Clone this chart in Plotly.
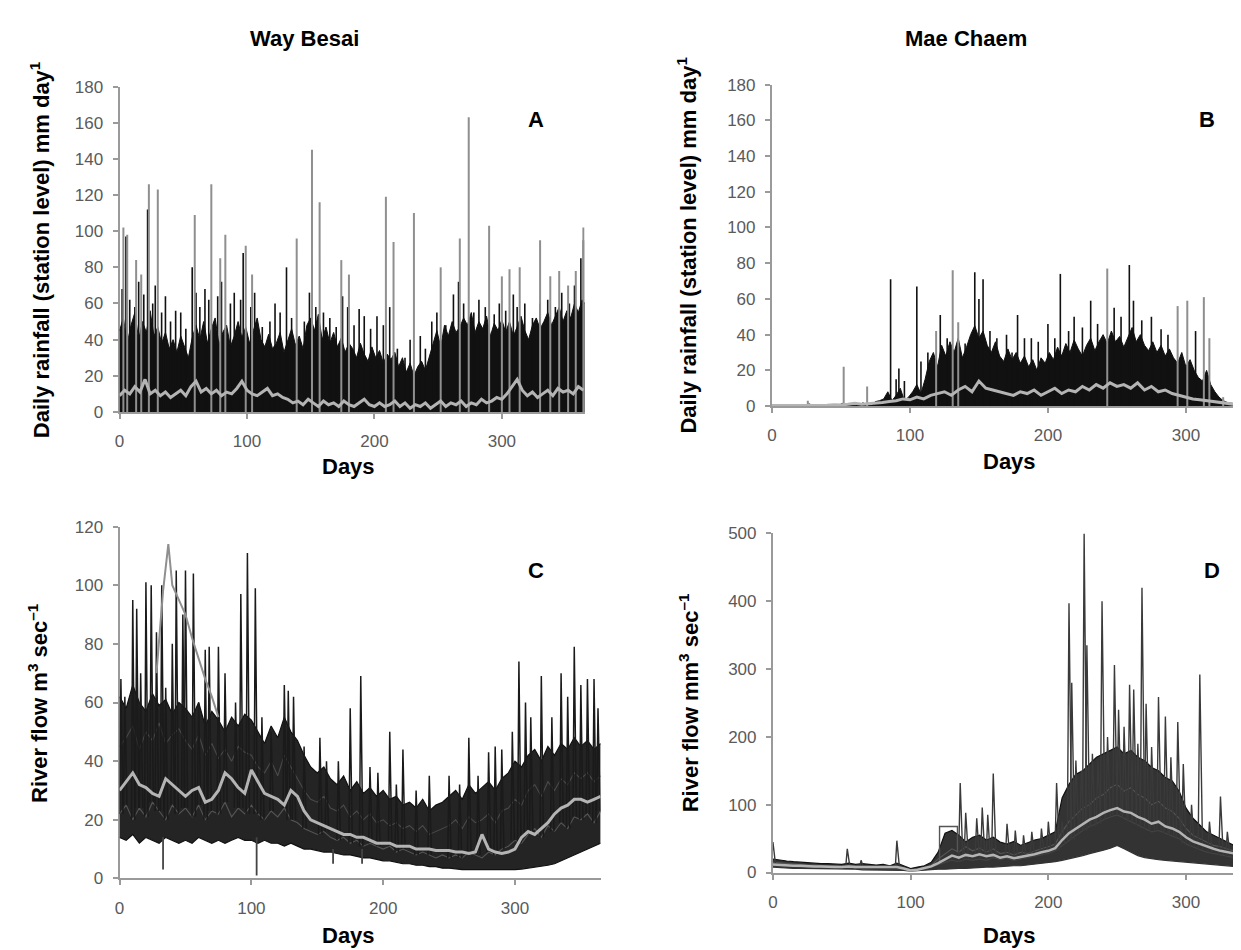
import plotly.graph_objects as go

W, H = 1241, 950

# ---------------- Panel A : Way Besai daily rainfall ----------------
A_env_days = list(range(0, 364, 3)) + [365]
A_env = [45, 52, 38, 48, 55, 40, 50, 44, 56, 42, 47,
         38, 44, 35, 40, 33, 42, 36, 30, 41, 48,
         40, 50, 38, 46, 52, 37, 44, 48, 36, 42,
         50, 41, 47, 38, 45, 52, 40, 36, 43, 35,
         38, 44, 33, 40, 46, 37, 42, 35, 48, 52,
         45, 54, 40, 47, 38, 44, 36, 41, 33, 38,
         35, 30, 38, 32, 28, 36, 30, 34, 27, 32,
         29, 33, 25, 30, 22, 27, 20, 25, 28, 23,
         30, 38, 45, 36, 48, 42, 50, 44, 47, 52,
         48, 55, 44, 50, 46, 53, 42, 49, 45, 51,
         44, 50, 42, 47, 53, 45, 40, 48, 52, 46,
         50, 55, 48, 53, 58, 50, 56, 52, 60, 55, 62,
         60]
A_mean_days = list(range(0, 365, 4))
A_mean = [9, 12, 10, 14, 11, 18, 10, 12, 9, 11, 8,
          10, 12, 9, 14, 17, 11, 13, 10, 12, 9, 11,
          10, 13, 17, 12, 10, 9, 11, 13, 9, 10, 8,
          7, 5, 6, 4, 7, 5, 3, 6, 4, 5, 3,
          6, 4, 3, 5, 7, 4, 3, 5, 3, 4, 6,
          3, 5, 2, 4, 3, 5, 2, 4, 6, 3, 5,
          4, 6, 3, 5, 4, 7, 5, 6, 8, 7, 10,
          14, 18, 12, 9, 11, 8, 10, 12, 9, 13, 11,
          12, 10, 14, 12]
A_black_days = [2, 5, 8, 12, 15, 19, 22, 26, 28, 33, 36, 40, 44, 48, 52, 57, 60, 63, 67, 70,
                77, 80, 87, 90, 95, 97, 103, 106, 112, 118, 122, 126, 131, 135, 140, 145, 149, 154, 160, 165,
                170, 175, 179, 184, 188, 192, 197, 202, 207, 212, 218, 224, 228, 236, 240, 245, 249, 256, 262, 266,
                270, 278, 282, 287, 294, 298, 303, 309, 312, 318, 324, 330, 336, 342, 347, 353, 357, 362, 364]
A_black_vals = [68, 97, 62, 58, 72, 65, 112, 60, 70, 55, 64, 50, 56, 55, 46, 80, 66, 58, 68, 62,
                64, 72, 60, 66, 62, 88, 58, 66, 47, 50, 60, 55, 80, 52, 40, 50, 66, 58, 55, 52,
                47, 64, 58, 48, 57, 53, 46, 53, 48, 58, 35, 30, 40, 42, 35, 50, 55, 48, 65, 72,
                60, 55, 62, 58, 54, 60, 56, 65, 58, 60, 52, 60, 62, 58, 66, 60, 70, 85, 95]
A_gray_days = [3, 6, 13, 17, 23, 30, 59, 72, 79, 83, 99, 104, 139, 151, 157, 174, 180, 209, 215, 231,
               252, 267, 274, 290, 300, 306, 314, 330, 338, 345, 352, 358, 364]
A_gray_vals = [102, 98, 84, 76, 126, 123, 109, 126, 85, 98, 92, 76, 96, 145, 116, 84, 76, 119, 94, 110,
               80, 96, 163, 103, 75, 79, 80, 95, 75, 78, 70, 78, 102]

# ---------------- Panel B : Mae Chaem daily rainfall ----------------
B_env_days = list(range(0, 346, 3))
B_env = [0.3, 0.5, 0.2, 0.4, 0.6, 0.3, 0.2, 0.5, 0.4, 1.2, 0.3, 0.2, 0.4, 0.6, 0.3, 0.5, 0.2, 1.5,
         0.4, 0.3, 0.5, 0.7, 1.8, 0.6, 0.4, 2.5, 3.0,
         4, 8, 3, 6, 10, 3, 5, 8, 12, 7, 15,
         25, 30, 22, 34, 28, 36, 30, 38, 27, 33, 40,
         45, 38, 42, 34, 30, 36, 28, 25, 32, 26, 30,
         24, 28, 22, 26, 20, 27, 24, 30, 26, 33, 28,
         35, 30, 37, 32, 28, 34, 38, 31, 36, 40, 35,
         42, 36, 39, 33, 38, 44, 36, 40, 34, 31, 36,
         30, 34, 28, 32, 27, 24, 30, 22, 26, 20, 16,
         14, 20, 12, 8, 5, 3, 2, 1.5, 1, 0.8, 0.5, 0.4]
B_mean_days = list(range(0, 346, 5))
B_mean = [0.3, 0.3, 0.2, 0.3, 0.4, 0.5, 0.5, 0.6, 0.5, 0.8, 0.6, 1.0, 1.5, 1.0, 1.2, 1.5, 2.0,
          2.5, 3, 4, 3.5, 5, 4, 6, 7, 8, 6, 9, 11, 8, 14, 10, 9, 8,
          7, 6, 8, 7, 9, 6, 8, 10, 7, 9, 8, 11, 9, 12, 10, 13, 11,
          12, 10, 13, 9, 11, 8, 9, 7, 6, 5, 4, 3.5, 3, 2.5, 2, 1.2, 0.8,
          0.5, 0.4]
B_black_days = [86, 90, 92, 96, 105, 108, 113, 122, 127, 140, 147, 150, 153, 158, 163, 170, 174, 178, 183, 188,
                193, 200, 205, 209, 215, 219, 225, 231, 236, 248, 253, 259, 262, 268, 275, 282, 287, 307]
B_black_vals = [71, 15, 21, 14, 67, 25, 30, 51, 38, 35, 75, 60, 71, 42, 38, 40, 30, 51, 38, 38,
                36, 46, 38, 74, 42, 50, 44, 59, 46, 55, 50, 79, 59, 48, 50, 43, 40, 42]
B_gray_days = [26, 52, 69, 119, 131, 135, 243, 294, 301, 313, 317, 327]
B_gray_vals = [3, 22, 11, 42, 76, 47, 77, 56, 59, 61, 38, 5]

# ---------------- Panel C : Way Besai river flow ----------------
C_days = list(range(0, 366, 5))
C_upper = [62, 58, 66, 60, 57, 63, 59, 61, 56, 60,
           58, 55, 60, 52, 57, 54, 50, 55, 52, 56,
           54, 50, 46, 52, 48, 55, 50, 47, 42, 38,
           36, 38, 34, 32, 35, 30, 33, 29, 31, 28,
           30, 27, 28, 25, 26, 24, 27, 23, 25, 26,
           28, 30, 27, 32, 29, 31, 33, 30, 34, 36,
           40, 38, 42, 44, 40, 45, 42, 46, 44, 48,
           45, 47, 44, 46]
C_lower = [14, 13, 15, 12, 14, 13, 12, 14, 13, 12,
           13, 12, 14, 13, 12, 13, 12, 13, 14, 13,
           13, 12, 13, 12, 12, 11, 12, 11, 10, 10,
           9.5, 9, 9, 8.5, 8, 8, 7.5, 7, 7, 6.5,
           6, 6, 5.5, 5, 5, 4.5, 4.5, 4, 4, 3.5,
           3.5, 3.2, 3, 3, 3, 2.8, 3, 3, 2.8, 3,
           3, 3.2, 3.5, 3.8, 4, 4.5, 5, 6, 7, 8,
           9, 10, 11, 12]
C_mid1 = [45, 48, 52, 44, 50, 47, 53, 46, 49, 51,
          47, 44, 49, 42, 46, 41, 44, 40, 45, 43,
          42, 38, 36, 40, 35, 42, 38, 34, 30, 27,
          26, 28, 24, 23, 25, 21, 23, 20, 22, 19,
          20, 18, 19, 17, 18, 16, 18, 15, 16, 17,
          18, 20, 17, 21, 19, 20, 22, 19, 23, 24,
          27, 25, 30, 32, 28, 33, 30, 34, 32, 36,
          34, 36, 33, 35]
C_mid2 = [22, 25, 20, 24, 21, 26, 23, 20, 25, 22,
          24, 21, 25, 20, 23, 22, 26, 21, 24, 22,
          25, 22, 20, 23, 21, 24, 20, 19, 17, 16,
          15, 16, 14, 13, 14, 12, 13, 11, 12, 11,
          10, 11, 9, 10, 9, 8, 9, 8, 7, 8,
          7, 8, 7, 9, 8, 7, 9, 8, 10, 11,
          13, 12, 15, 17, 14, 18, 16, 19, 17, 21,
          20, 22, 19, 23]
C_mean = [30, 33, 36, 32, 31, 29, 28, 34, 32, 30,
          28, 30, 31, 26, 27, 30, 36, 34, 31, 29,
          37, 33, 29, 28, 27, 25, 30, 28, 23, 20,
          19, 18, 17, 16, 15, 15, 14, 14, 13, 12,
          12, 12, 11, 11, 11, 10, 10, 10, 9.5, 9.5,
          9.5, 9, 9, 8.5, 9, 15, 10, 9, 8.5, 9,
          10, 14, 16, 15, 17, 19, 22, 24, 25, 27,
          27, 26, 27, 28]
C_peak_days = [1, 4, 10, 13, 16, 20, 24, 28, 32, 35, 40, 43, 48, 50, 56, 60, 65, 68, 75, 80,
               88, 92, 97, 103, 108, 115, 125, 128, 132, 140, 152, 157, 166, 175, 183, 190, 196, 205, 210, 215,
               225, 235, 250, 258, 265, 272, 280, 285, 290, 298, 303, 308, 312, 320, 328, 335, 340, 345, 350, 355,
               360, 363]
C_peak_vals = [68, 62, 95, 92, 70, 101, 100, 84, 100, 65, 80, 105, 90, 105, 104, 60, 78, 79, 79, 70,
               60, 97, 111, 99, 55, 50, 66, 64, 62, 45, 48, 40, 40, 58, 69, 38, 36, 50, 32, 44,
               30, 35, 35, 32, 48, 35, 43, 45, 44, 50, 74, 60, 55, 69, 55, 70, 62, 79, 66, 68,
               68, 58]
C_drop_days = [33, 104, 162, 184]
C_drop_top = [14, 14, 10, 10]
C_drop_low = [3, 1, 5, 5]
C_hump_days = [28, 33, 37, 40, 45, 50, 55, 60, 65, 70, 75]
C_hump_vals = [70, 98, 114, 100, 95, 90, 82, 75, 68, 62, 55]

# ---------------- Panel D : Mae Chaem river flow ----------------
D_days = list(range(0, 346, 5))
D_upper = [20, 18, 17, 16, 15, 14, 14, 13, 13, 12,
           12, 14, 12, 13, 12, 11, 12, 10, 14, 10,
           6, 8, 10, 15, 30, 58, 62, 55, 45, 52,
           55, 48, 52, 45, 42, 46, 40, 44, 48, 50,
           55, 60, 110, 130, 145, 150, 160, 170, 175, 180,
           185, 175, 180, 170, 165, 155, 150, 140, 135, 120,
           95, 80, 70, 60, 55, 50, 45, 40, 35, 30]
D_lower = [8, 7, 7, 6, 6, 6, 5, 5, 5, 5,
           5, 5, 5, 4, 4, 4, 4, 4, 3, 3,
           2, 3, 4, 5, 5, 5, 6, 6, 6, 7,
           7, 8, 8, 9, 9, 10, 10, 11, 12, 13,
           14, 16, 18, 20, 22, 25, 28, 30, 33, 36,
           40, 35, 30, 25, 22, 20, 19, 18, 17, 16,
           15, 14, 13, 12, 11, 10, 10, 9, 9, 8]
D_mid1 = [15, 14, 13, 12, 12, 11, 11, 10, 10, 10,
          9, 10, 9, 9, 9, 8, 9, 8, 9, 7,
          4, 5, 7, 10, 20, 28, 35, 30, 38, 32,
          36, 30, 35, 28, 30, 26, 30, 28, 32, 35,
          38, 42, 60, 75, 85, 95, 100, 110, 115, 125,
          130, 120, 125, 115, 110, 100, 105, 95, 90, 80,
          65, 55, 50, 45, 40, 38, 35, 32, 28, 25]
D_mid2 = [10, 10, 9, 9, 8, 8, 8, 7, 7, 7,
          7, 7, 6, 6, 6, 6, 6, 5, 5, 5,
          3, 4, 5, 8, 12, 15, 18, 16, 20, 18,
          20, 18, 22, 19, 21, 18, 20, 22, 24, 26,
          28, 32, 40, 48, 55, 62, 68, 72, 78, 82,
          85, 80, 75, 70, 65, 60, 62, 58, 55, 50,
          42, 38, 34, 30, 28, 26, 24, 22, 20, 18]
D_mean = [12, 11, 11, 10, 10, 9, 9, 9, 8, 8,
          8, 9, 8, 8, 8, 7, 8, 7, 8, 6,
          3, 4, 6, 9, 14, 20, 25, 22, 26, 24,
          27, 24, 26, 22, 24, 21, 23, 24, 27, 30,
          32, 36, 48, 58, 65, 72, 78, 82, 88, 92,
          95, 90, 88, 82, 78, 72, 75, 68, 65, 60,
          52, 46, 42, 38, 35, 32, 30, 28, 26, 24]
D_peak_days = [0, 54, 64, 90, 136, 140, 148, 152, 156, 160, 170, 176, 182, 188, 195, 200, 206, 210, 215, 217,
               220, 224, 226, 228, 232, 236, 239, 243, 248, 251, 255, 259, 262, 265, 268, 271, 275, 280, 285, 289,
               294, 298, 304, 310, 317, 325, 330]
D_peak_vals = [45, 35, 18, 47, 132, 88, 80, 96, 85, 146, 72, 62, 55, 60, 65, 75, 132, 75, 397, 280,
               165, 150, 500, 335, 175, 165, 400, 200, 306, 240, 215, 277, 270, 190, 420, 249, 185, 259, 230, 170,
               222, 160, 100, 292, 75, 112, 60]
D_box_days = [121, 121, 134, 134]
D_box_vals = [15, 68, 68, 30]

# ---------------- helpers ----------------
BLACK = "#111111"
GRAY = "#8f8f8f"
MEAN = "#b4b4b4"
AXIS = "#9a9a9a"
TICKF = dict(family="Arial, Liberation Sans, sans-serif", size=17, color="#5a5a5a")


def sticks(days, vals, base=0):
    xs, ys = [], []
    for d, v in zip(days, vals):
        xs += [d, d, None]
        ys += [base, v, None]
    return xs, ys


def peaks(days, vals, grid_days, base_series, left=1.0, right=1.8):
    xs, ys = [], []
    for d, v in zip(days, vals):
        i = min(range(len(grid_days)), key=lambda k: abs(grid_days[k] - d))
        b = base_series[i]
        xs += [d - left, d, d + right, None]
        ys += [b, v, b, None]
    return xs, ys


fig = go.Figure()

# ---- A ----
fig.add_trace(go.Scatter(x=A_env_days, y=A_env, mode="lines", line=dict(color=BLACK, width=1),
                         fill="tozeroy", fillcolor=BLACK, xaxis="x", yaxis="y"))
x, y = sticks(A_black_days, A_black_vals)
fig.add_trace(go.Scatter(x=x, y=y, mode="lines", line=dict(color=BLACK, width=1.6), xaxis="x", yaxis="y"))
x, y = sticks(A_gray_days, A_gray_vals)
fig.add_trace(go.Scatter(x=x, y=y, mode="lines", line=dict(color=GRAY, width=2), xaxis="x", yaxis="y"))
fig.add_trace(go.Scatter(x=A_mean_days, y=A_mean, mode="lines", line=dict(color=MEAN, width=3), xaxis="x", yaxis="y"))

# ---- B ----
fig.add_trace(go.Scatter(x=B_env_days, y=B_env, mode="lines", line=dict(color=BLACK, width=1),
                         fill="tozeroy", fillcolor=BLACK, xaxis="x2", yaxis="y2"))
x, y = sticks(B_black_days, B_black_vals)
fig.add_trace(go.Scatter(x=x, y=y, mode="lines", line=dict(color=BLACK, width=1.6), xaxis="x2", yaxis="y2"))
x, y = sticks(B_gray_days, B_gray_vals)
fig.add_trace(go.Scatter(x=x, y=y, mode="lines", line=dict(color=GRAY, width=2), xaxis="x2", yaxis="y2"))
fig.add_trace(go.Scatter(x=B_mean_days, y=B_mean, mode="lines", line=dict(color=MEAN, width=3), xaxis="x2", yaxis="y2"))

# ---- C ----
fig.add_trace(go.Scatter(x=C_days, y=C_lower, mode="lines", line=dict(color=BLACK, width=1.2), xaxis="x3", yaxis="y3"))
fig.add_trace(go.Scatter(x=C_days, y=C_upper, mode="lines", line=dict(color=BLACK, width=1.2),
                         fill="tonexty", fillcolor="rgba(12,12,12,0.9)", xaxis="x3", yaxis="y3"))
fig.add_trace(go.Scatter(x=C_days, y=C_mid1, mode="lines", line=dict(color="#4a4a4a", width=1.1), xaxis="x3", yaxis="y3"))
fig.add_trace(go.Scatter(x=C_days, y=C_mid2, mode="lines", line=dict(color="#555555", width=1.1), xaxis="x3", yaxis="y3"))
x, y = peaks(C_peak_days, C_peak_vals, C_days, C_mid2, 1.0, 1.6)
fig.add_trace(go.Scatter(x=x, y=y, mode="lines", line=dict(color="#1a1a1a", width=1.5), xaxis="x3", yaxis="y3"))
fig.add_trace(go.Scatter(x=C_hump_days, y=C_hump_vals, mode="lines", line=dict(color=GRAY, width=2), xaxis="x3", yaxis="y3"))
xs, ys = [], []
for d, t, l in zip(C_drop_days, C_drop_top, C_drop_low):
    xs += [d, d, None]
    ys += [t, l, None]
fig.add_trace(go.Scatter(x=xs, y=ys, mode="lines", line=dict(color="#444444", width=1.8), xaxis="x3", yaxis="y3"))
fig.add_trace(go.Scatter(x=C_days, y=C_mean, mode="lines", line=dict(color=MEAN, width=3), xaxis="x3", yaxis="y3"))

# ---- D ----
fig.add_trace(go.Scatter(x=D_days, y=D_lower, mode="lines", line=dict(color="#333333", width=1.2), xaxis="x4", yaxis="y4"))
fig.add_trace(go.Scatter(x=D_days, y=D_upper, mode="lines", line=dict(color=BLACK, width=1.2),
                         fill="tonexty", fillcolor="rgba(15,15,15,0.85)", xaxis="x4", yaxis="y4"))
fig.add_trace(go.Scatter(x=D_days, y=D_mid1, mode="lines", line=dict(color="#555555", width=1.1), xaxis="x4", yaxis="y4"))
fig.add_trace(go.Scatter(x=D_days, y=D_mid2, mode="lines", line=dict(color="#444444", width=1.1), xaxis="x4", yaxis="y4"))
fig.add_trace(go.Scatter(x=D_box_days, y=D_box_vals, mode="lines", line=dict(color="#555555", width=1.4), xaxis="x4", yaxis="y4"))
x, y = peaks(D_peak_days, D_peak_vals, D_days, D_mid2, 1.2, 2.0)
fig.add_trace(go.Scatter(x=x, y=y, mode="lines", line=dict(color="#3a3a3a", width=1.4), xaxis="x4", yaxis="y4"))
fig.add_trace(go.Scatter(x=D_days, y=D_mean, mode="lines", line=dict(color=MEAN, width=2.5), xaxis="x4", yaxis="y4"))


def px_x(p):
    return p / W


def px_y(p):
    return 1 - p / H


def xaxis(dom, rng, anchor):
    return dict(domain=dom, range=rng, anchor=anchor, showline=True, linecolor=AXIS, linewidth=2,
                ticks="outside", ticklen=5, tickwidth=1.5, tickcolor=AXIS, tickvals=[0, 100, 200, 300],
                showgrid=False, zeroline=False, tickfont=TICKF, ticklabelstandoff=8, layer="below traces",
                fixedrange=True)


def yaxis(dom, rng, dtick, anchor):
    return dict(domain=dom, range=rng, anchor=anchor, showline=True, linecolor=AXIS, linewidth=2,
                ticks="outside", ticklen=5, tickwidth=1.5, tickcolor=AXIS, dtick=dtick, tick0=0,
                showgrid=False, zeroline=False, tickfont=TICKF, ticklabelstandoff=6, layer="below traces",
                fixedrange=True)


ann = []


def text(xp, yp, t, size, angle=0):
    ann.append(dict(x=px_x(xp), y=px_y(yp), xref="paper", yref="paper", text=t, showarrow=False,
                    textangle=angle, xanchor="center", yanchor="middle",
                    font=dict(family="Arial, Liberation Sans, sans-serif", size=size, color="black")))


text(293, 22, "<b>Way Besai</b>", 22)
text(957, 22, "<b>Mae Chaem</b>", 22)
text(525, 105, "<b>A</b>", 22)
text(1199, 105, "<b>B</b>", 22)
text(525, 565, "<b>C</b>", 22)
text(1204, 565, "<b>D</b>", 22)
text(337, 459, "<b>Days</b>", 22)
text(1001, 454, "<b>Days</b>", 22)
text(337, 937, "<b>Days</b>", 22)
text(1001, 937, "<b>Days</b>", 22)
text(27, 237, "<b>Daily rainfall (station level) mm day<sup>1</sup></b>", 22, -90)
text(677, 233, "<b>Daily rainfall (station level) mm day<sup>1</sup></b>", 22, -90)
text(25, 700, "<b>River flow m<sup>3</sup> sec<sup>–1</sup></b>", 22, -90)
text(679, 700, "<b>River flow mm<sup>3</sup> sec<sup>–1</sup></b>", 22, -90)

fig.update_layout(
    width=W, height=H, autosize=False,
    margin=dict(l=0, r=0, t=0, b=0),
    paper_bgcolor="white", plot_bgcolor="white",
    showlegend=False,
    annotations=ann,
    xaxis=xaxis([px_x(107), px_x(574)], [0, 365], "y"),
    yaxis=yaxis([px_y(403), px_y(71)], [0, 180], 20, "x"),
    xaxis2=xaxis([px_x(762), px_x(1240)], [0, 345], "y2"),
    yaxis2=yaxis([px_y(397), px_y(69)], [0, 180], 20, "x2"),
    xaxis3=xaxis([px_x(107), px_x(590)], [0, 365], "y3"),
    yaxis3=yaxis([px_y(879), px_y(520)], [0, 120], 20, "x3"),
    xaxis4=xaxis([px_x(763), px_x(1240)], [0, 345], "y4"),
    yaxis4=yaxis([px_y(873), px_y(527)], [0, 500], 100, "x4"),
)

fig.write_html("out.html")
